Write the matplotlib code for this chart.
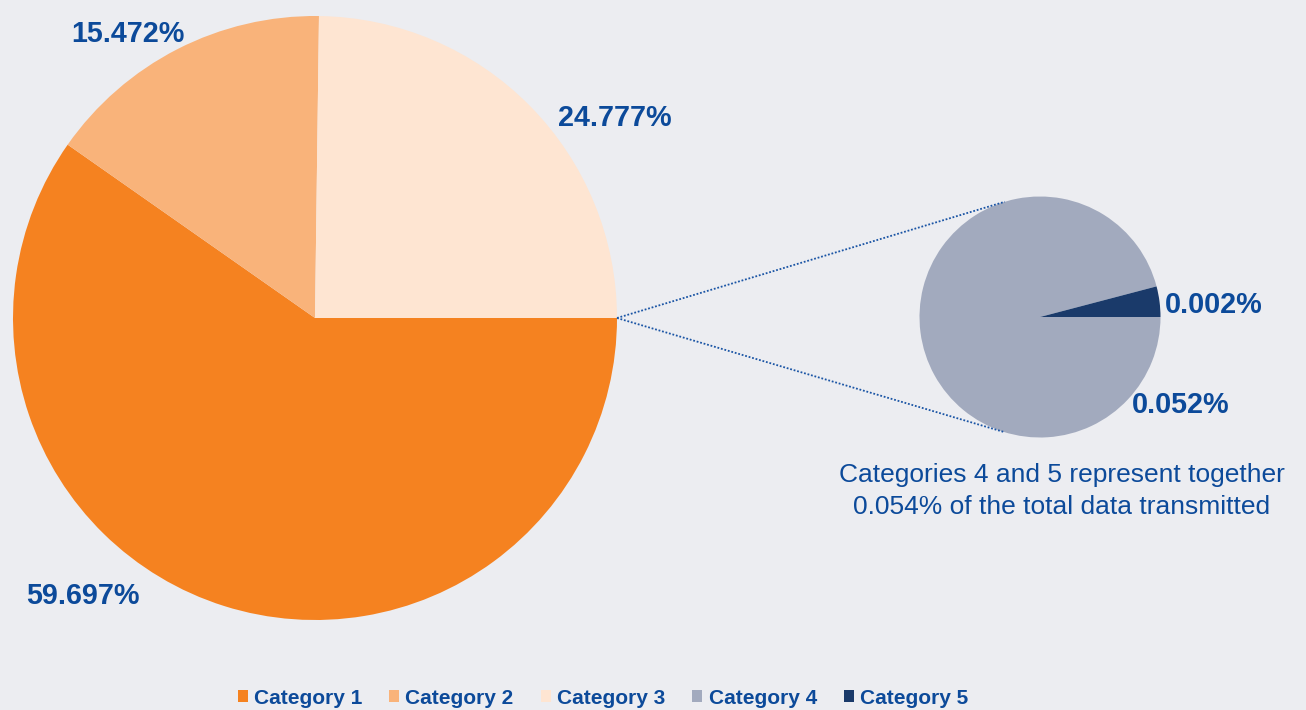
import matplotlib.pyplot as plt
import numpy as np

# data
categories = ['Category 1', 'Category 2', 'Category 3', 'Category 4', 'Category 5']
main_shares = [59.697, 15.472, 24.777]      # categories 1-3
small_shares = [0.0516, 0.0022]              # categories 4-5
colors = ['#F58220', '#F9B37A', '#FEE5D2', '#A2AABE', '#1A3A6A']
note = 'Categories 4 and 5 represent together\n0.054% of the total data transmitted'

bg = '#ECEDF1'
txt = '#0C4A9A'
plt.rcParams['font.family'] = ['Liberation Sans', 'DejaVu Sans']

W, H = 1306, 710
fig = plt.figure(figsize=(W / 100, H / 100), dpi=100, facecolor=bg)
ax = fig.add_axes([0, 0, 1, 1])
ax.set_facecolor(bg)

# big pie
c1, r1 = (315, H - 318), 302
w1, _ = ax.pie(main_shares, colors=colors[:3], startangle=0, counterclock=False,
               center=c1, radius=r1, frame=True,
               wedgeprops=dict(linewidth=0))

# small pie
c2, r2 = (1040, H - 317), 120.5
w2, _ = ax.pie(small_shares, colors=colors[3:], startangle=0, counterclock=False,
               center=c2, radius=r2, frame=True,
               wedgeprops=dict(linewidth=0))
ax.set_xlim(0, W)
ax.set_ylim(0, H)
ax.set_aspect('equal')
ax.axis('off')

# connector lines
p0 = (c1[0] + r1, c1[1])
for a in (107, -107):
    p = (c2[0] + r2 * np.cos(np.radians(a)), c2[1] + r2 * np.sin(np.radians(a)))
    ax.plot([p0[0], p[0]], [p0[1], p[1]], ls=(0, (1, 1)), color='#1B55A5', lw=1.3)

# value labels (angle, distance in radii)
main_pos = [(230.2, 1.199), (123.4, 1.126), (33.7, 1.194)]
for v, (a, d) in zip(main_shares, main_pos):
    x = c1[0] + d * r1 * np.cos(np.radians(a))
    y = c1[1] + d * r1 * np.sin(np.radians(a))
    ax.text(x, y, f'{v:.3f}%', ha='center', va='center', fontsize=20.7,
            fontweight='bold', color=txt)

small_pos = [(-32, 1.38), (4.0, 1.445)]
for v, (a, d) in zip(small_shares, small_pos):
    x = c2[0] + d * r2 * np.cos(np.radians(a))
    y = c2[1] + d * r2 * np.sin(np.radians(a))
    ax.text(x, y, f'{v:.3f}%', ha='center', va='center', fontsize=20.7,
            fontweight='bold', color=txt)

ax.text(1062, H - 491, note, ha='center', va='center', fontsize=19,
        color=txt, linespacing=1.4)

# legend
fig.legend(w1 + w2, categories, loc='center', bbox_to_anchor=(603 / W, 1 - 698 / H),
           ncol=5, frameon=False, handlelength=0.48, handleheight=0.48,
           handletextpad=0.3, columnspacing=1.3,
           prop=dict(size=15, weight='bold'), labelcolor=txt)

fig.savefig('out.png', dpi=100, facecolor=bg)
